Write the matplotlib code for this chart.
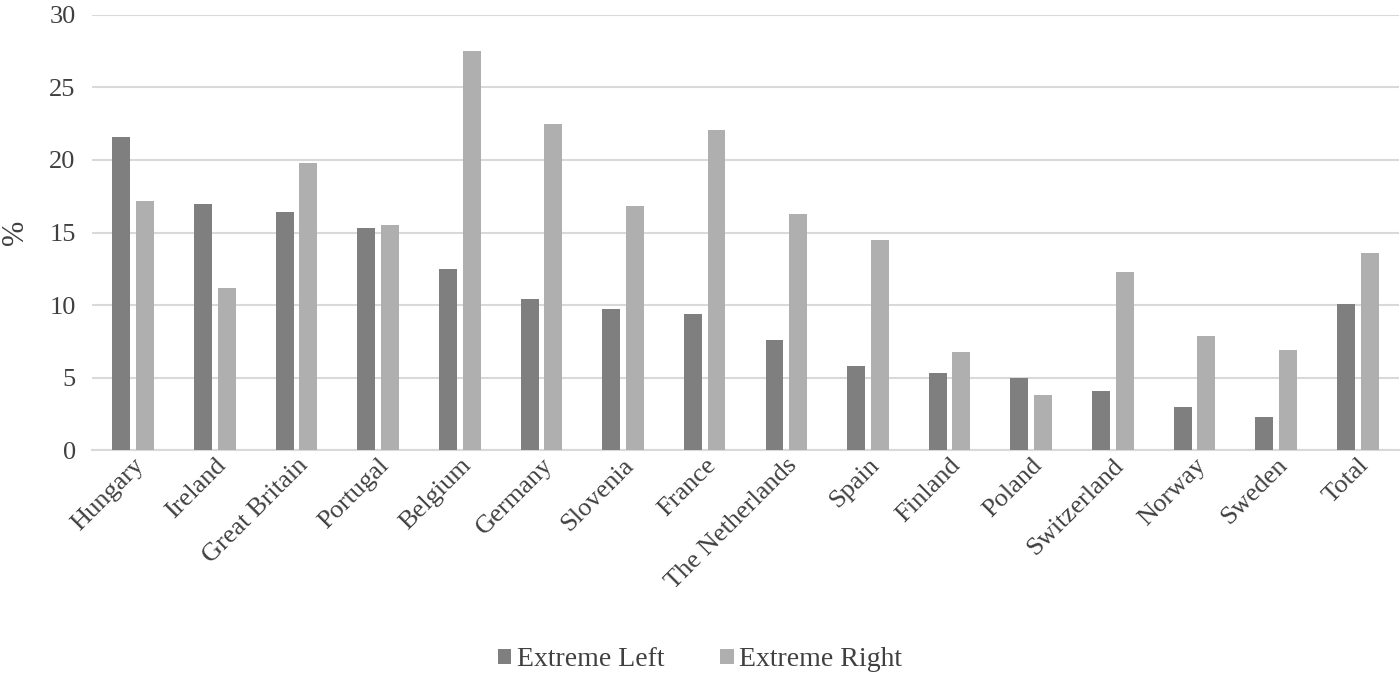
import matplotlib.pyplot as plt
import numpy as np

plt.rcParams['font.family'] = ['Liberation Serif', 'DejaVu Serif']

countries = ['Hungary', 'Ireland', 'Great Britain', 'Portugal', 'Belgium', 'Germany',
             'Slovenia', 'France', 'The Netherlands', 'Spain', 'Finland', 'Poland',
             'Switzerland', 'Norway', 'Sweden', 'Total']
extreme_left = [21.6, 17.0, 16.4, 15.3, 12.5, 10.4, 9.7, 9.4, 7.6, 5.8, 5.3, 5.0, 4.1, 3.0, 2.3, 10.1]
extreme_right = [17.2, 11.2, 19.8, 15.5, 27.5, 22.5, 16.8, 22.1, 16.3, 14.5, 6.8, 3.8, 12.3, 7.9, 6.9, 13.6]

fig = plt.figure(figsize=(14, 6.77), dpi=100)
ax = fig.add_axes([0.066, 0.335, 0.933, 0.643])

x = np.arange(len(countries))
w = 0.22
ax.bar(x - 0.145, extreme_left, w, color='#7f7f7f', label='Extreme Left', zorder=3)
ax.bar(x + 0.145, extreme_right, w, color='#afafaf', label='Extreme Right', zorder=3)

ax.set_xlim(-0.5, len(countries) - 0.5)
ax.set_ylim(0, 30)
ax.set_yticks(range(0, 31, 5))
ax.yaxis.grid(True, color='#d9d9d9', linewidth=1.5, zorder=0)
for s in ['top', 'right', 'left']:
    ax.spines[s].set_visible(False)
ax.spines['bottom'].set_color('#d9d9d9')
ax.spines['bottom'].set_linewidth(1.5)
ax.tick_params(axis='both', length=0, labelsize=19, colors='#404040')
ax.tick_params(axis='y', pad=12)
ax.tick_params(axis='x', pad=3)
ax.set_xticks(x)
ax.set_xticklabels(countries, rotation=45, ha='right', rotation_mode='anchor')
ax.set_ylabel('%', fontsize=22, color='#404040', labelpad=14)

fig.legend(loc='lower center', bbox_to_anchor=(0.5, -0.03), ncol=2, frameon=False,
           fontsize=20, handlelength=0.5, handleheight=0.5, handletextpad=0.2,
           columnspacing=2.0, labelcolor='#404040')

fig.savefig('out.png', dpi=100)
